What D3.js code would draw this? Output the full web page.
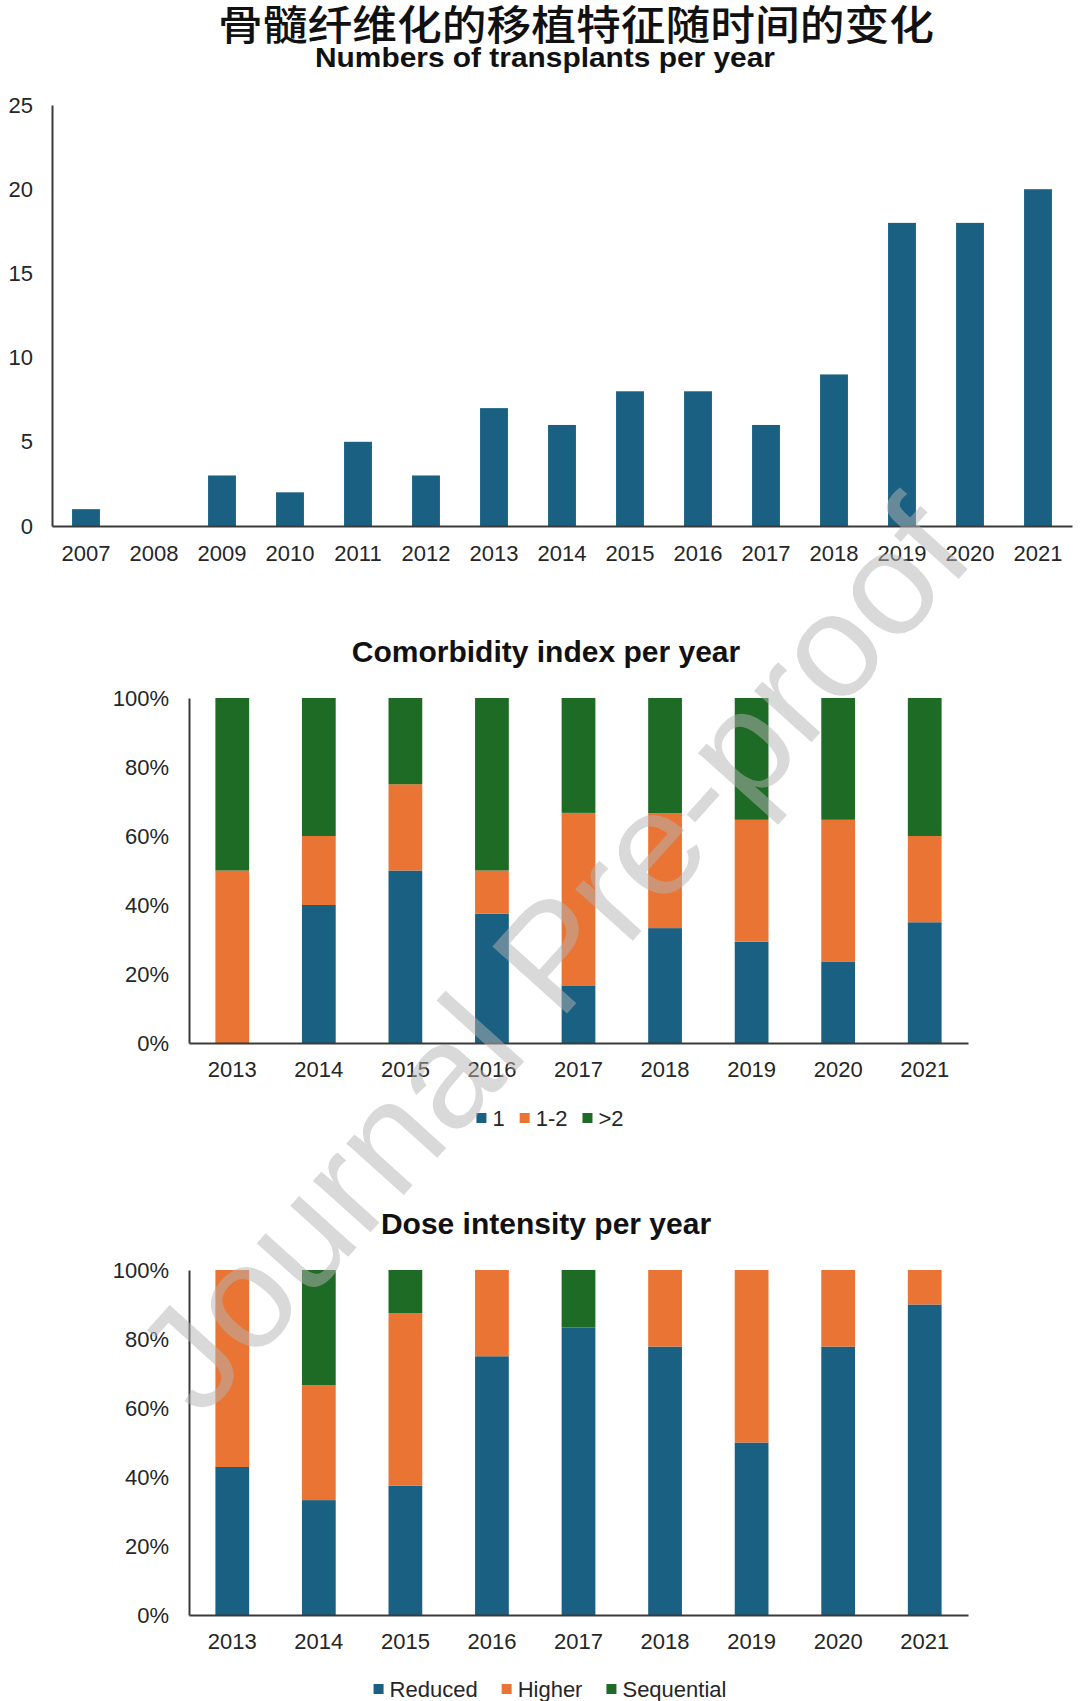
<!DOCTYPE html>
<html><head><meta charset="utf-8">
<script src="https://cdn.jsdelivr.net/npm/d3@7"></script>
<style>
html,body{margin:0;padding:0;background:#fff;}
svg{display:block;}
text{font-family:"Liberation Sans",Arial,sans-serif;}
</style></head>
<body>
<svg id="c" width="1080" height="1701"></svg>
<script>
// ---------- DATA ----------
const mainTitle = "骨髓纤维化的移植特征随时间的变化";
const title1 = "Numbers of transplants per year";
const years1 = ["2007","2008","2009","2010","2011","2012","2013","2014","2015","2016","2017","2018","2019","2020","2021"];
const transplants = [1,0,3,2,5,3,7,6,8,8,6,9,18,18,20];
const ticks1 = [0,5,10,15,20,25];

const title2 = "Comorbidity index per year";
const years2 = ["2013","2014","2015","2016","2017","2018","2019","2020","2021"];
const comorbKeys = ["1","1-2",">2"];
const comorb1   = [0, 40, 50, 37.5, 16.7, 33.3, 29.4, 23.5, 35];
const comorb12  = [50, 20, 25, 12.5, 50, 33.3, 35.3, 41.2, 25];
const comorbGt2 = [50, 40, 25, 50, 33.3, 33.4, 35.3, 35.3, 40];

const title3 = "Dose intensity per year";
const doseKeys = ["Reduced","Higher","Sequential"];
const doseReduced    = [42.9, 33.3, 37.5, 75, 83.3, 77.8, 50, 77.8, 90];
const doseHigher     = [57.1, 33.3, 50, 25, 0, 22.2, 50, 22.2, 10];
const doseSequential = [0, 33.4, 12.5, 0, 16.7, 0, 0, 0, 0];

const pctTicks = [0,20,40,60,80,100];
const watermark = "Journal Pre-proof";

// ---------- STYLE ----------
const BLUE = "#1a6083", ORANGE = "#e97433", GREEN = "#1e6b25";
const AXIS = "#3a3a3a", TXT = "#262626";

const svg = d3.select("#c");

// Main title
svg.append("text").attr("x", 576).attr("y", 40)
  .attr("text-anchor","middle")
  .style("font-family",'"Noto Sans CJK SC", sans-serif').style("font-size","41px").style("font-weight","500")
  .attr("fill","#111").attr("textLength",716).attr("lengthAdjust","spacingAndGlyphs").text(mainTitle);

// ---------- Chart 1 ----------
(function(){
  const x = d3.scaleBand().domain(years1).range([52,1072]).paddingInner(0.59).paddingOuter(0.295);
  const y = d3.scaleLinear().domain([0,25]).range([526,105]);
  svg.append("text").attr("x",545).attr("y",67).attr("text-anchor","middle")
    .style("font-size","27px").style("font-weight","bold").attr("fill","#111")
    .attr("textLength",460).attr("lengthAdjust","spacingAndGlyphs").text(title1);
  const g = svg.append("g");
  g.selectAll("rect").data(transplants).join("rect")
    .attr("x",(d,i)=>x(years1[i])).attr("width",x.bandwidth())
    .attr("y",d=>y(d)).attr("height",d=>y(0)-y(d)).attr("fill",BLUE);
  const ya = d3.axisLeft(y).tickValues(ticks1).tickSize(0).tickPadding(19);
  const ga = svg.append("g").attr("transform","translate(52,0)").call(ya);
  ga.select(".domain").attr("stroke",AXIS).attr("stroke-width",2);
  ga.selectAll("text").style("font-size","22px").attr("fill",TXT).style("font-family",'"Liberation Sans",Arial,sans-serif');
  const xa = d3.axisBottom(x).tickSize(0).tickPadding(19);
  const gx = svg.append("g").attr("transform","translate(0,526)").call(xa);
  gx.select(".domain").attr("stroke",AXIS).attr("stroke-width",2);
  gx.selectAll("text").style("font-size","22px").attr("fill",TXT).style("font-family",'"Liberation Sans",Arial,sans-serif');
})();

// ---------- Stacked percent charts ----------
function stacked(opts){
  const {title, titleY, top, bottom, keys, series, colors, legendY, legendGap} = opts;
  const x = d3.scaleBand().domain(years2).range([189,968]).paddingInner(0.61).paddingOuter(0.305);
  const y = d3.scaleLinear().domain([0,100]).range([bottom, top]);
  svg.append("text").attr("x",546).attr("y",titleY).attr("text-anchor","middle").attr("dominant-baseline","central")
    .style("font-size","30px").style("font-weight","bold").attr("fill","#111").text(title);
  const rows = years2.map((yr,i)=>{ const o={year:yr}; keys.forEach((k,j)=>o[k]=series[j][i]); return o;});
  const st = d3.stack().keys(keys)(rows);
  const color = d3.scaleOrdinal().domain(keys).range(colors);
  svg.append("g").selectAll("g").data(st).join("g").attr("fill",d=>color(d.key))
    .selectAll("rect").data(d=>d).join("rect")
    .attr("x",d=>x(d.data.year)).attr("width",x.bandwidth())
    .attr("y",d=>y(d[1])).attr("height",d=>Math.max(0,y(d[0])-y(d[1])));
  const ya = d3.axisLeft(y).tickValues(pctTicks).tickFormat(d=>d+"%").tickSize(0).tickPadding(20);
  const ga = svg.append("g").attr("transform","translate(189,0)").call(ya);
  ga.select(".domain").attr("stroke",AXIS).attr("stroke-width",2);
  ga.selectAll("text").style("font-size","22px").attr("fill",TXT).style("font-family",'"Liberation Sans",Arial,sans-serif');
  const xa = d3.axisBottom(x).tickSize(0).tickPadding(18);
  const gx = svg.append("g").attr("transform",`translate(0,${bottom})`).call(xa);
  gx.select(".domain").attr("stroke",AXIS).attr("stroke-width",2);
  gx.selectAll("text").style("font-size","22px").attr("fill",TXT).style("font-family",'"Liberation Sans",Arial,sans-serif');
  // legend
  const lg = svg.append("g");
  let cx = 0;
  keys.forEach((k,i)=>{
    const it = lg.append("g").attr("transform",`translate(${cx},0)`);
    it.append("rect").attr("x",0).attr("y",-5).attr("width",10).attr("height",10).attr("fill",colors[i]);
    const t = it.append("text").attr("x",16).attr("y",0).attr("dominant-baseline","central")
      .style("font-size","22px").attr("fill",TXT).text(k);
    cx += 16 + t.node().getComputedTextLength() + legendGap;
  });
  const total = cx - legendGap;
  lg.attr("transform",`translate(${550 - total/2},${legendY})`);
}

stacked({title:title2, titleY:651, top:698, bottom:1043, keys:comorbKeys,
  series:[comorb1,comorb12,comorbGt2], colors:[BLUE,ORANGE,GREEN], legendY:1118, legendGap:15});
stacked({title:title3, titleY:1223, top:1270, bottom:1615, keys:doseKeys,
  series:[doseReduced,doseHigher,doseSequential], colors:[BLUE,ORANGE,GREEN], legendY:1689, legendGap:24});

// watermark
svg.append("text").attr("transform","translate(552,955) rotate(-48)")
  .attr("text-anchor","middle").attr("dominant-baseline","central")
  .style("font-size","146px").attr("fill","#b4b4b4").attr("fill-opacity",0.5)
  .attr("textLength",1160).attr("lengthAdjust","spacingAndGlyphs").text(watermark);
</script>
</body></html>
